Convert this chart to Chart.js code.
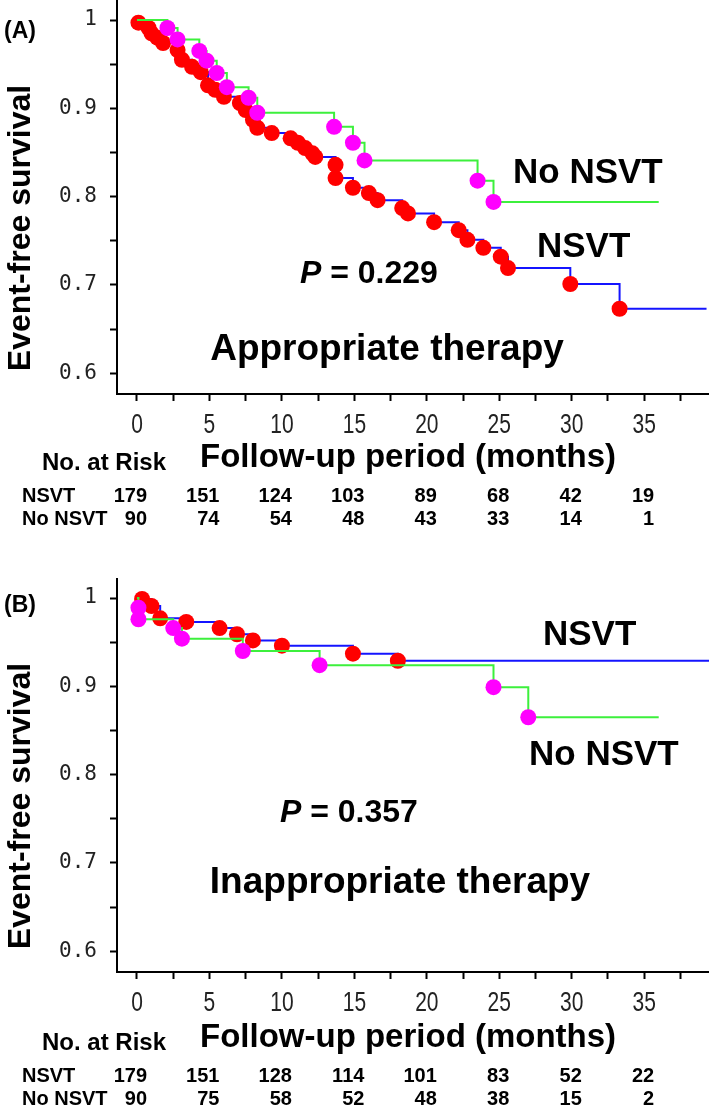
<!DOCTYPE html>
<html lang="en">
<head>
<meta charset="UTF-8">
<title>Event-free survival, NSVT vs No NSVT</title>
<script src="https://cdn.jsdelivr.net/npm/chart.js"></script>
<style>
  html, body { margin: 0; padding: 0; background: #fff; }
  #wrap { position: relative; width: 709px; height: 1115px; }
  canvas { position: absolute; left: 0; }
  #chartA { top: 0; }
  #chartB { top: 578px; }
</style>
</head>
<body>
<div id="wrap">
  <canvas id="chartA" width="709" height="578"></canvas>
  <canvas id="chartB" width="709" height="537"></canvas>
</div>
<script>
// tick labels
const xTicks = [0, 5, 10, 15, 20, 25, 30, 35];
const xMinor = [2.5, 7.5, 12.5, 17.5, 22.5, 27.5, 32.5, 37.5];
const yTicks = [0.6, 0.7, 0.8, 0.9, 1];
const yMinor = [0.65, 0.75, 0.85, 0.95];

// (A) appropriate therapy - event times (months) and survival
const aNsvtTime = [0.1, 0.8, 1.0, 1.4, 1.8, 2.8, 3.1, 3.8, 4.4, 4.9, 5.4, 6.0, 7.1, 7.5, 8.0, 8.3,
  9.3, 10.6, 11.1, 11.6, 12.1, 12.3, 13.7, 13.7, 14.9, 16.0, 16.6, 18.3, 18.7, 20.5, 22.2, 22.8,
  23.9, 25.1, 25.6, 29.9, 33.3];
const aNsvtSurv = [0.997, 0.991, 0.985, 0.980, 0.974, 0.966, 0.955, 0.947, 0.941, 0.926, 0.921, 0.913,
  0.906, 0.898, 0.887, 0.878, 0.872, 0.866, 0.861, 0.855, 0.849, 0.845, 0.836, 0.821, 0.810, 0.804,
  0.796, 0.787, 0.781, 0.771, 0.762, 0.751, 0.742, 0.732, 0.719, 0.701, 0.673];
const aNsvtEnd = 39.3;
const aNoTime = [2.1, 2.8, 4.3, 4.8, 5.5, 6.2, 7.7, 8.3, 13.6, 14.9, 15.7, 23.5, 24.6];
const aNoSurv = [0.991, 0.978, 0.965, 0.954, 0.940, 0.924, 0.912, 0.895, 0.879, 0.861, 0.841, 0.818, 0.794];
const aNoEnd = 36.0;

// (B) inappropriate therapy
const bNsvtTime = [0.35, 1.0, 1.6, 3.4, 5.7, 6.9, 8.0, 10.0, 14.9, 18.0];
const bNsvtSurv = [0.999, 0.991, 0.977, 0.973, 0.966, 0.959, 0.952, 0.946, 0.937, 0.929];
const bNsvtEnd = 39.5;
const bNoTime = [0.1, 0.1, 2.5, 3.1, 7.3, 12.6, 24.6, 27.0];
const bNoSurv = [0.989, 0.976, 0.966, 0.954, 0.940, 0.924, 0.899, 0.865];
const bNoEnd = 36.0;

// numbers at risk
const riskTimes = [0, 5, 10, 15, 20, 25, 30, 35];
const aRiskNsvt = [179, 151, 124, 103, 89, 68, 42, 19];
const aRiskNo = [90, 74, 54, 48, 43, 33, 14, 1];
const bRiskNsvt = [179, 151, 128, 114, 101, 83, 52, 22];
const bRiskNo = [90, 75, 58, 52, 48, 38, 15, 2];

const SANS = "'Liberation Sans', Arial, sans-serif";
const MONO = "'DejaVu Sans Mono', monospace";

function kmPoints(times, surv, end) {
  const pts = [{ x: 0, y: 1 }];
  times.forEach((t, i) => pts.push({ x: t, y: surv[i] }));
  pts.push({ x: end, y: surv[surv.length - 1] });
  return pts;
}

function kmDataset(label, pts, line, dot, order) {
  const last = pts.length - 1;
  return {
    label: label,
    data: pts,
    order: order,
    stepped: true,
    borderColor: line,
    borderWidth: 2,
    fill: false,
    pointRadius: ctx => (ctx.dataIndex === 0 || ctx.dataIndex === last) ? 0 : 8,
    pointBackgroundColor: dot,
    pointBorderColor: dot,
    pointBorderWidth: 0
  };
}

function notesPlugin(p) {
  return {
    id: 'notes',
    afterDraw(chart) {
      const c = chart.ctx;
      const xs = chart.scales.x;
      const txt = (s, px, py, font, align) => {
        c.font = font;
        c.textAlign = align || 'left';
        c.fillText(s, px, py);
      };
      c.save();
      c.fillStyle = '#000';
      c.textBaseline = 'alphabetic';

      // x tick labels, condensed like the original
      c.fillStyle = '#222';
      xTicks.forEach(v => {
        c.save();
        c.translate(xs.getPixelForValue(v), 433);
        c.scale(0.75, 1);
        txt(String(v), 0, 0, '28px ' + SANS, 'center');
        c.restore();
      });
      c.fillStyle = '#000';

      txt(p.tag, 4, p.tagY, 'bold 23px ' + SANS);

      c.save();
      c.translate(30, 228);
      c.rotate(-Math.PI / 2);
      txt('Event-free survival', 0, 0, 'bold 32px ' + SANS, 'center');
      c.restore();

      // group labels
      txt('No NSVT', p.noX, p.noY, 'bold 35px ' + SANS);
      txt('NSVT', p.nsvtX, p.nsvtY, 'bold 35px ' + SANS);

      // p value
      c.font = 'italic bold 32px ' + SANS;
      c.textAlign = 'left';
      c.fillText('P', p.pX, p.pY);
      const w = c.measureText('P').width;
      txt(' = ' + p.pVal, p.pX + w, p.pY, 'bold 32px ' + SANS);

      txt(p.title, p.titleX, p.titleY, 'bold 37px ' + SANS, 'center');

      // axis title and risk table
      const r = p.rowShift;
      txt('No. at Risk', 42, 470 + r, 'bold 24px ' + SANS);
      txt('Follow-up period (months)', 200, 467 + r, 'bold 33px ' + SANS);
      txt('NSVT', 22, 502 + r, 'bold 20px ' + SANS);
      txt('No NSVT', 22, 525 + r, 'bold 20px ' + SANS);
      riskTimes.forEach((t, i) => {
        const px = xs.getPixelForValue(t) + 10;
        txt(String(p.riskNsvt[i]), px, 502 + r, 'bold 20px ' + SANS, 'right');
        txt(String(p.riskNo[i]), px, 525 + r, 'bold 20px ' + SANS, 'right');
      });
      c.restore();
    }
  };
}

function makePanel(id, nsvtPts, noPts, notes) {
  const canvas = document.getElementById(id);
  const H = canvas.height;
  return new Chart(canvas, {
    type: 'line',
    data: {
      datasets: [
        kmDataset('No NSVT', noPts, '#3cf03c', '#ff00ff', 0),
        kmDataset('NSVT', nsvtPts, '#1414ff', '#ff0000', 1)
      ]
    },
    options: {
      responsive: false,
      animation: false,
      events: [],
      layout: { padding: 0 },
      plugins: { legend: { display: false }, tooltip: { enabled: false } },
      scales: {
        x: {
          type: 'linear',
          min: -1.38,
          max: 39.47,
          afterBuildTicks: s => { s.ticks = xTicks.concat(xMinor).sort((a, b) => a - b).map(v => ({ value: v })); },
          afterFit: s => { s.height = H - 394; s.paddingLeft = 0; s.paddingRight = 0; },
          ticks: {
            autoSkip: false,
            maxRotation: 0,
            callback: () => ''
          },
          grid: { drawOnChartArea: false, drawTicks: true, tickLength: 7, tickWidth: 2, tickColor: '#000' },
          border: { display: true, color: '#000', width: 2 }
        },
        y: {
          type: 'linear',
          min: 0.5764,
          max: 1.0227,
          afterBuildTicks: s => { s.ticks = yTicks.concat(yMinor).sort((a, b) => a - b).map(v => ({ value: v })); },
          afterFit: s => { s.width = 117; s.paddingTop = 0; s.paddingBottom = 0; },
          ticks: {
            autoSkip: false,
            padding: 13,
            color: '#222',
            font: { family: MONO, size: 21 },
            callback: v => yTicks.includes(v) ? String(v) : ''
          },
          grid: { drawOnChartArea: false, drawTicks: true, tickLength: 7, tickWidth: 2, tickColor: '#000' },
          border: { display: true, color: '#000', width: 2 }
        }
      }
    },
    plugins: [notesPlugin(notes)]
  });
}

makePanel('chartA',
  kmPoints(aNsvtTime, aNsvtSurv, aNsvtEnd),
  kmPoints(aNoTime, aNoSurv, aNoEnd),
  {
    tag: '(A)', tagY: 38,
    noX: 513, noY: 183, nsvtX: 537, nsvtY: 257,
    pX: 300, pY: 283, pVal: '0.229',
    title: 'Appropriate therapy', titleX: 387, titleY: 360,
    rowShift: 0, riskNsvt: aRiskNsvt, riskNo: aRiskNo
  });

makePanel('chartB',
  kmPoints(bNsvtTime, bNsvtSurv, bNsvtEnd),
  kmPoints(bNoTime, bNoSurv, bNoEnd),
  {
    tag: '(B)', tagY: 34,
    noX: 529, noY: 187, nsvtX: 543, nsvtY: 67,
    pX: 280, pY: 244, pVal: '0.357',
    title: 'Inappropriate therapy', titleX: 400, titleY: 315,
    rowShift: 2, riskNsvt: bRiskNsvt, riskNo: bRiskNo
  });
</script>
</body>
</html>
